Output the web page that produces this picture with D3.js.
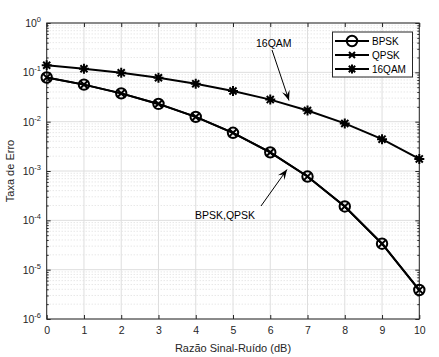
<!DOCTYPE html>
<html><head><meta charset="utf-8">
<script src="https://cdn.jsdelivr.net/npm/d3@7"></script>
<style>body{margin:0;background:#fff}svg{display:block;font-family:"Liberation Sans",Arial,sans-serif}</style>
</head><body>
<svg id="c" width="439" height="357"></svg>
<script>
const snr = [0,1,2,3,4,5,6,7,8,9,10];
const bpsk = [0.0786,0.0563,0.0375,0.0229,0.0125,0.00595,0.00239,0.000773,0.000191,0.0000336,0.00000387];
const qpsk = [0.0786,0.0563,0.0375,0.0229,0.0125,0.00595,0.00239,0.000773,0.000191,0.0000336,0.00000387];
const qam16 = [0.139,0.118,0.0976,0.0776,0.0586,0.0419,0.0280,0.0168,0.00922,0.00442,0.00176];
const xTicks = [0,1,2,3,4,5,6,7,8,9,10];
const yExps = [-6,-5,-4,-3,-2,-1,0];
const seriesNames = ["BPSK","QPSK","16QAM"];

const svg = d3.select("#c");
const L=46.7,R=419.3,T=23,B=319;
const x = d3.scaleLinear().domain([0,10]).range([L,R]);
const y = d3.scaleLog().domain([1e-6,1]).range([B,T]);
const axisCol="#262626", gridCol="#dedede";

// grid
const g = svg.append("g");
const minor=[];
for(let e=-6;e<0;e++) for(let m=2;m<=9;m++) minor.push(m*Math.pow(10,e));
g.selectAll(".mn").data(minor).enter().append("line")
 .attr("x1",L).attr("x2",R).attr("y1",d=>y(d)).attr("y2",d=>y(d))
 .attr("stroke","#d4d4d4").attr("stroke-width",0.8).attr("stroke-dasharray","1,2");
g.selectAll(".mjy").data(yExps).enter().append("line")
 .attr("x1",L).attr("x2",R).attr("y1",d=>y(Math.pow(10,d))).attr("y2",d=>y(Math.pow(10,d)))
 .attr("stroke",gridCol).attr("stroke-width",1);
g.selectAll(".mjx").data(xTicks).enter().append("line")
 .attr("y1",T).attr("y2",B).attr("x1",d=>x(d)).attr("x2",d=>x(d))
 .attr("stroke",gridCol).attr("stroke-width",1);

// axes
const ax = svg.append("g");
ax.append("g").attr("transform",`translate(0,${B})`)
 .call(d3.axisBottom(x).tickValues(xTicks).tickSize(-4).tickPadding(8).tickFormat(d3.format("d")))
 .call(s=>{s.select(".domain").remove();s.selectAll("line").attr("stroke",axisCol);s.selectAll("text").attr("fill",axisCol).attr("font-size",10.5).attr("font-family","Liberation Sans, Arial");});
ax.append("g").attr("transform",`translate(0,${T})`)
 .call(d3.axisTop(x).tickValues(xTicks).tickSize(-4).tickFormat(""))
 .call(s=>{s.select(".domain").remove();s.selectAll("line").attr("stroke",axisCol);});
// y major ticks
ax.append("g").attr("transform",`translate(${L},0)`)
 .call(d3.axisLeft(y).tickValues(yExps.map(e=>Math.pow(10,e))).tickSize(-4).tickFormat(""))
 .call(s=>{s.select(".domain").remove();s.selectAll("line").attr("stroke",axisCol);});
ax.append("g").attr("transform",`translate(${R},0)`)
 .call(d3.axisRight(y).tickValues(yExps.map(e=>Math.pow(10,e))).tickSize(-4).tickFormat(""))
 .call(s=>{s.select(".domain").remove();s.selectAll("line").attr("stroke",axisCol);});
ax.append("g").attr("transform",`translate(${L},0)`)
 .call(d3.axisLeft(y).tickValues(minor).tickSize(-2).tickFormat(""))
 .call(s=>{s.select(".domain").remove();s.selectAll("line").attr("stroke",axisCol);});
ax.append("g").attr("transform",`translate(${R},0)`)
 .call(d3.axisRight(y).tickValues(minor).tickSize(-2).tickFormat(""))
 .call(s=>{s.select(".domain").remove();s.selectAll("line").attr("stroke",axisCol);});
// y labels
const yl = svg.append("g").attr("fill",axisCol).attr("font-size",10.5);
yExps.forEach(e=>{
  const t = yl.append("text").attr("x",41).attr("y",y(Math.pow(10,e))+4).attr("text-anchor","end");
  t.append("tspan").text("10");
  t.append("tspan").attr("dy",-5).attr("font-size",7.5).text(String(e).replace("-","-"));
});
svg.append("rect").attr("x",L).attr("y",T).attr("width",R-L).attr("height",B-T)
 .attr("fill","none").attr("stroke",axisCol).attr("stroke-width",1);

// titles
svg.append("text").attr("x",(L+R)/2).attr("y",352).attr("text-anchor","middle")
 .attr("font-size",11).attr("fill",axisCol).text("Razão Sinal-Ruído (dB)");
svg.append("text").attr("transform",`translate(14,${(T+B)/2}) rotate(-90)`).attr("text-anchor","middle")
 .attr("font-size",11).attr("fill",axisCol).text("Taxa de Erro");

// lines
const line = d3.line().x((d,i)=>x(snr[i])).y(d=>y(d));
const lw=2;
[bpsk,qpsk,qam16].forEach(s=>{
  svg.append("path").datum(s).attr("d",line).attr("fill","none").attr("stroke","#000").attr("stroke-width",lw);
});
function circle(gg,cx,cy){gg.append("circle").attr("cx",cx).attr("cy",cy).attr("r",5.2).attr("fill","none").attr("stroke","#000").attr("stroke-width",lw);}
function cross(gg,cx,cy,r=3.6){gg.append("path").attr("d",`M${cx-r},${cy-r}L${cx+r},${cy+r}M${cx-r},${cy+r}L${cx+r},${cy-r}`).attr("stroke","#000").attr("stroke-width",lw);}
function star(gg,cx,cy,r=5){
  let d="";
  for(let k=0;k<4;k++){const a=k*Math.PI/4;d+=`M${cx-r*Math.cos(a)},${cy-r*Math.sin(a)}L${cx+r*Math.cos(a)},${cy+r*Math.sin(a)}`;}
  gg.append("path").attr("d",d).attr("stroke","#000").attr("stroke-width",lw);
}
const mk = svg.append("g");
bpsk.forEach((v,i)=>circle(mk,x(snr[i]),y(v)));
qpsk.forEach((v,i)=>cross(mk,x(snr[i]),y(v)));
qam16.forEach((v,i)=>star(mk,x(snr[i]),y(v)));

// annotations
function arrow(x1,y1,x2,y2){
  svg.append("line").attr("x1",x1).attr("y1",y1).attr("x2",x2).attr("y2",y2).attr("stroke","#000").attr("stroke-width",1);
  const a=Math.atan2(y2-y1,x2-x1), len=10, w=4;
  const bx=x2-len*Math.cos(a), by=y2-len*Math.sin(a);
  const mx=x2-len*0.6*Math.cos(a), my=y2-len*0.6*Math.sin(a);
  svg.append("path").attr("d",`M${x2},${y2}L${bx+w*Math.sin(a)},${by-w*Math.cos(a)}L${mx},${my}L${bx-w*Math.sin(a)},${by+w*Math.cos(a)}Z`).attr("fill","#000");
}
svg.append("text").attr("x",256).attr("y",47).attr("font-size",10.5).attr("fill","#000").text("16QAM");
arrow(272,50,289,100.5);
svg.append("text").attr("x",195).attr("y",219).attr("font-size",10.5).attr("fill","#000").text("BPSK,QPSK");
arrow(261,206,287,169.5);

// legend
const lg = svg.append("g");
lg.append("rect").attr("x",332.5).attr("y",32).attr("width",80).attr("height",45).attr("fill","#fff").attr("stroke",axisCol).attr("stroke-width",1);
const ly=[41,55,69];
seriesNames.forEach((n,i)=>{
  lg.append("line").attr("x1",335).attr("x2",369).attr("y1",ly[i]).attr("y2",ly[i]).attr("stroke","#000").attr("stroke-width",lw);
  if(i===0) circle(lg,352,ly[i]);
  if(i===1) cross(lg,352,ly[i],3);
  if(i===2) star(lg,352,ly[i],4.5);
  lg.append("text").attr("x",372).attr("y",ly[i]+3.8).attr("font-size",10).attr("fill","#000").text(n);
});
</script>
</body></html>
